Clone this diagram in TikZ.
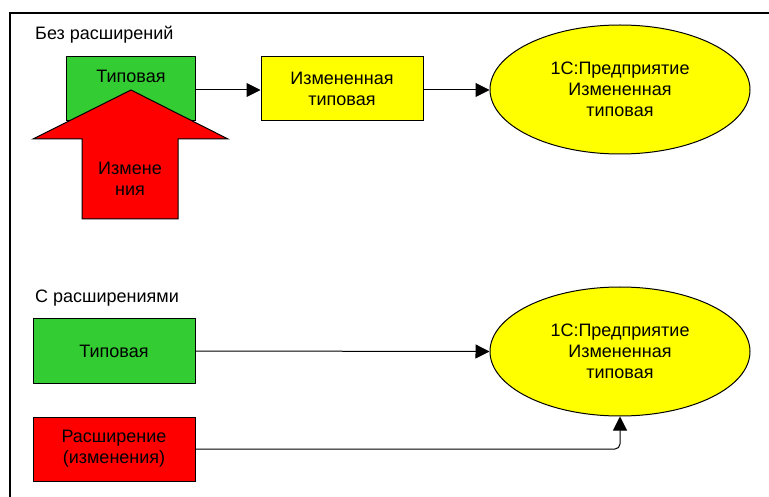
\documentclass[tikz,border=0pt]{standalone}
\usepackage{fontspec}
\setmainfont{Liberation Sans}
\usetikzlibrary{arrows.meta,shapes.geometric}
\definecolor{boxgreen}{HTML}{33CC33}
\definecolor{boxred}{HTML}{FF0000}
\definecolor{boxyellow}{HTML}{FFFF00}
\tikzset{
  every node/.style={font=\fontsize{18}{21}\selectfont, align=center, inner sep=0pt},
  box/.style={draw=black, line width=1pt, minimum width=162pt, minimum height=64pt},
  oval/.style={ellipse, draw=black, line width=1pt, fill=boxyellow, minimum width=260pt, minimum height=129pt},
  conn/.style={draw=black, line width=1pt, -{Triangle[length=14pt,width=14pt]}},
  frame/.style={draw=black, line width=1.5pt},
  caption/.style={anchor=west}
}
\begin{document}
\begin{tikzpicture}[x=1pt,y=-1pt]
\useasboundingbox (0,0) rectangle (769,497);
\fill[white] (0,0) rectangle (769,497);
% frame
\draw[frame] (769,13) -- (10,13) -- (10,497);

% top section
\node[caption] (cap1) at (35,35) {Без расширений};
\node[box, fill=boxgreen, minimum width=129pt] (t1) at (130.5,89) {};
\node (t1txt) at (131,76) {Типовая};
\draw[draw=black, line width=1pt, fill=boxred]
  (131,90) -- (228,139) -- (178,139) -- (178,219) -- (82,219) -- (82,139) -- (33,139) -- cycle;
\node (chg) at (130,179) {Измене\\ния};
\node[box, fill=boxyellow] (y1) at (342,89) {Измененная\\типовая};
\node[oval] (e1) at (620,89.5) {1С:Предприятие\\Измененная\\типовая};
\draw[conn] (t1.east |- 0,90) coordinate (t1e) -- (y1.west |- t1e);
\draw[conn] (y1.east |- 0,90) coordinate (y1e) -- (e1.west |- y1e);

% bottom section
\node[caption] (cap2) at (35,298) {С расширениями};
\node[box, fill=boxgreen] (t2) at (114,351) {Типовая};
\node[box, fill=boxred] (ext) at (114,449) {Расширение\\(изменения)};
\node[oval] (e2) at (620,351.5) {1С:Предприятие\\Измененная\\типовая};
\draw[conn] (t2.east) -- (e2.west);
\draw[conn, rounded corners=5pt] (ext.east) -| (e2.south);
\end{tikzpicture}
\end{document}
